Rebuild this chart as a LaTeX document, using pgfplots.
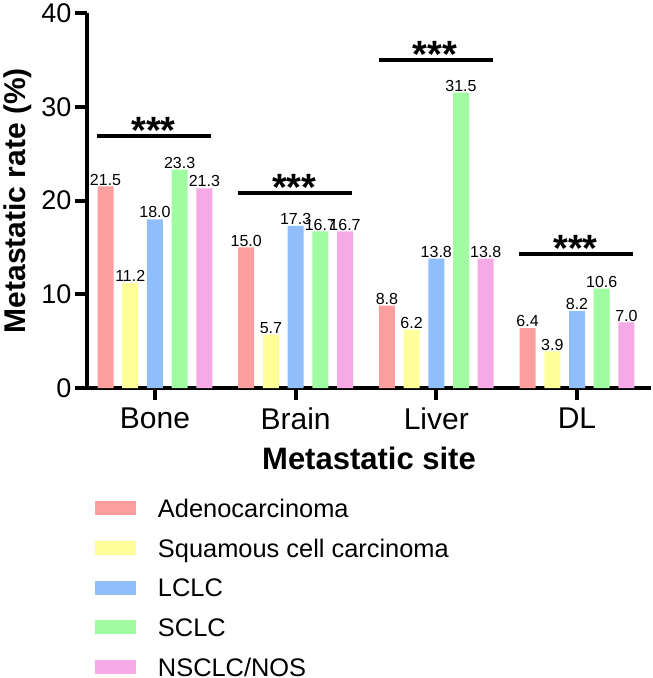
\documentclass[border=0pt]{standalone}
\usepackage{fontspec}
\setmainfont{Liberation Sans}
\usepackage{pgfplots}
\pgfplotsset{compat=1.18}
\definecolor{cA}{RGB}{255,158,158}
\definecolor{cB}{RGB}{255,255,153}
\definecolor{cC}{RGB}{143,190,250}
\definecolor{cD}{RGB}{160,252,160}
\definecolor{cE}{RGB}{245,170,230}
\pgfplotsset{vb/.style={draw=none, fill=#1, nodes near coords, point meta=y}}
\begin{document}
\begin{tikzpicture}
\begin{axis}[
  scale only axis, width=564pt, height=375pt,
  xmin=-0.483, xmax=3.526, ymin=0, ymax=40,
  clip=false,
  ybar, bar width=16pt,
  every node near coord/.append style={font=\fontsize{16}{18}\selectfont, anchor=south, inner sep=1pt, black,
      /pgf/number format/.cd, fixed, fixed zerofill, precision=1, assume math mode=true},
  separate axis lines,
  axis x line*=bottom, axis y line*=left,
  axis line style={line width=4pt, -, black},
  xtick={0,1,2,3}, xticklabels={Bone,Brain,Liver,DL},
  ytick={0,10,20,30,40},
  tick style={line width=4pt, black},
  major tick length=12pt, tick align=outside,
  /pgf/number format/assume math mode=true,
  xticklabel style={font=\fontsize{30}{34}\selectfont, yshift=-4pt},
  yticklabel style={font=\fontsize{27}{30}\selectfont},
  every axis y label/.style={at={(axis description cs:-0.1223,0.5)}, anchor=center, rotate=90,
    font=\fontsize{30}{34}\selectfont\bfseries},
  every axis x label/.style={at={(axis description cs:0.5,-0.1867)}, anchor=center,
    font=\fontsize{31}{34}\selectfont\bfseries},
  ylabel={Metastatic rate (\%)},
  xlabel={Metastatic site},
  legend cell align=left,
  legend image code/.code={\fill[#1] (0pt,-7pt) rectangle (41pt,7pt);},
  legend style={at={(axis description cs:0,0)}, anchor=north west, xshift=8pt, yshift=-110.7pt,
    draw=none, fill=none, inner sep=0pt, outer sep=0pt, row sep=21.2pt,
    font=\fontsize{25.4}{30}\selectfont,
    nodes={inner sep=0pt, outer sep=0pt, text height=18.6pt, text depth=0pt}},
  /tikz/every odd column/.append style={column sep=22pt},
]
\addplot[vb=cA, bar shift=-49.4pt] coordinates {(0,21.5) (1,15.0) (2,8.8) (3,6.4)};
\addplot[vb=cB, bar shift=-24.7pt] coordinates {(0,11.2) (1,5.7) (2,6.2) (3,3.9)};
\addplot[vb=cC, bar shift=0pt] coordinates {(0,18.0) (1,17.3) (2,13.8) (3,8.2)};
\addplot[vb=cD, bar shift=24.7pt] coordinates {(0,23.3) (1,16.7) (2,31.5) (3,10.6)};
\addplot[vb=cE, bar shift=49.4pt] coordinates {(0,21.3) (1,16.7) (2,13.8) (3,7.0)};
\legend{Adenocarcinoma, Squamous cell carcinoma, LCLC, SCLC, NSCLC/NOS}
\addplot[sharp plot, black, line width=3.5pt, forget plot] coordinates {(-0.41,26.9) (0.40,26.9)};
\addplot[sharp plot, black, line width=3.5pt, forget plot] coordinates {(0.59,20.8) (1.40,20.8)};
\addplot[sharp plot, black, line width=3.5pt, forget plot] coordinates {(1.59,35.0) (2.40,35.0)};
\addplot[sharp plot, black, line width=3.5pt, forget plot] coordinates {(2.59,14.3) (3.40,14.3)};
\node[font=\fontsize{38}{40}\selectfont\bfseries, anchor=base] at (axis cs:-0.01,26.1) {***};
\node[font=\fontsize{38}{40}\selectfont\bfseries, anchor=base] at (axis cs:0.99,20.0) {***};
\node[font=\fontsize{38}{40}\selectfont\bfseries, anchor=base] at (axis cs:1.99,34.2) {***};
\node[font=\fontsize{38}{40}\selectfont\bfseries, anchor=base] at (axis cs:2.99,13.5) {***};
\end{axis}
\pgfresetboundingbox
\path (-87pt,-290pt) rectangle (566pt,388pt);
\end{tikzpicture}
\end{document}
